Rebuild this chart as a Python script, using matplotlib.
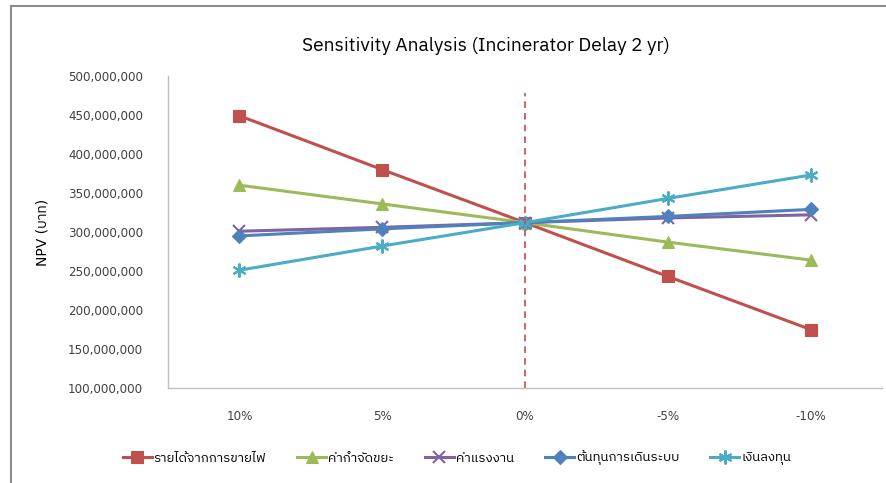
import matplotlib
matplotlib.use("Agg")
import matplotlib.pyplot as plt
from matplotlib import font_manager
from matplotlib.ft2font import FT2Font
from matplotlib.patches import Rectangle
from matplotlib.ticker import FuncFormatter

categories = ["10%", "5%", "0%", "-5%", "-10%"]
series_names = ["รายได้จากการขายไฟ", "ค่ากำจัดขยะ", "ค่าแรงงาน", "ต้นทุนการเดินระบบ", "เงินลงทุน"]
revenue = [449e6, 380e6, 312e6, 243e6, 175e6]
disposal = [360e6, 336e6, 312e6, 287e6, 264e6]
labour = [301e6, 306e6, 312e6, 318e6, 322e6]
operating = [295e6, 304e6, 312e6, 320e6, 329e6]
investment = [251e6, 282e6, 312e6, 343e6, 373e6]
title = "Sensitivity Analysis (Incinerator Delay 2 yr)"
ylabel = "NPV (บาท)"

# find a font with Thai glyphs
thai_font = None
for f in font_manager.fontManager.ttflist:
    try:
        ft = FT2Font(f.fname)
        cm = ft.get_charmap()
        if 0x0E01 in cm and 0x0E32 in cm:
            thai_font = f.name
            if "Thai" in f.name or "Tahoma" in f.name:
                break
    except Exception:
        pass
fams = ["DejaVu Sans"]
title_fams = ["DejaVu Sans"]
if thai_font:
    fams = ["DejaVu Sans", thai_font]
    title_fams = [thai_font, "DejaVu Sans"]
plt.rcParams["font.family"] = fams

fig = plt.figure(figsize=(8.86, 4.83), dpi=100)
W, H = 886, 483
ax = fig.add_axes([168 / W, 1 - 388 / H, (882 - 168) / W, (388 - 76) / H])

colors = ["#C0504D", "#9BBB59", "#8064A2", "#4F81BD", "#4BACC6"]
markers = ["s", "^", "x", "D", (6, 2, 0)]
msizes = [8, 8, 9, 7, 10]
data = [revenue, disposal, labour, operating, investment]
x = list(range(len(categories)))
for vals, c, m, ms, name in zip(data, colors, markers, msizes, series_names):
    ax.plot(x, vals, color=c, lw=2.2, marker=m, markersize=ms,
            markeredgewidth=1.5 if m in ("x",) or isinstance(m, tuple) else 0.8,
            markeredgecolor=c, label=name)

ax.axvline(2, ymin=0, ymax=(388 - 93) / 312, color="#C0504D", lw=1.2, ls=(0, (4, 3)))

ax.set_xlim(-0.5, 4.5)
ax.set_ylim(100e6, 500e6)
ax.set_yticks([100e6 + 50e6 * i for i in range(9)])
ax.yaxis.set_major_formatter(FuncFormatter(lambda v, p: f"{int(v):,}"))
ax.set_xticks(x)
ax.set_xticklabels(categories)
for s in ["top", "right"]:
    ax.spines[s].set_visible(False)
for s in ["left", "bottom"]:
    ax.spines[s].set_color("#BFBFBF")
    ax.spines[s].set_linewidth(1.0)
ax.tick_params(axis="both", length=0, labelsize=8.6, colors="#404040")
ax.tick_params(axis="y", pad=18)
ax.tick_params(axis="x", pad=16)

fig.text(43 / W, 1 - 232 / H, ylabel, rotation=90, ha="center", va="center", fontsize=10)
fig.text(486 / W, 1 - 46 / H, title, ha="center", va="center", fontsize=13.8,
         family=title_fams)

leg = fig.legend(loc="center", bbox_to_anchor=(457 / W, 1 - 458 / H), ncol=5, frameon=False,
                 fontsize=9.5, handlelength=2.2, columnspacing=2.35, handletextpad=0.15)

fig.patches.append(Rectangle((11 / W, -0.1), 1.2, 1 - 6 / H + 0.1, transform=fig.transFigure,
                             fill=False, edgecolor="#8C8C8C", lw=1.5, figure=fig))

fig.savefig("out.png", dpi=100)
